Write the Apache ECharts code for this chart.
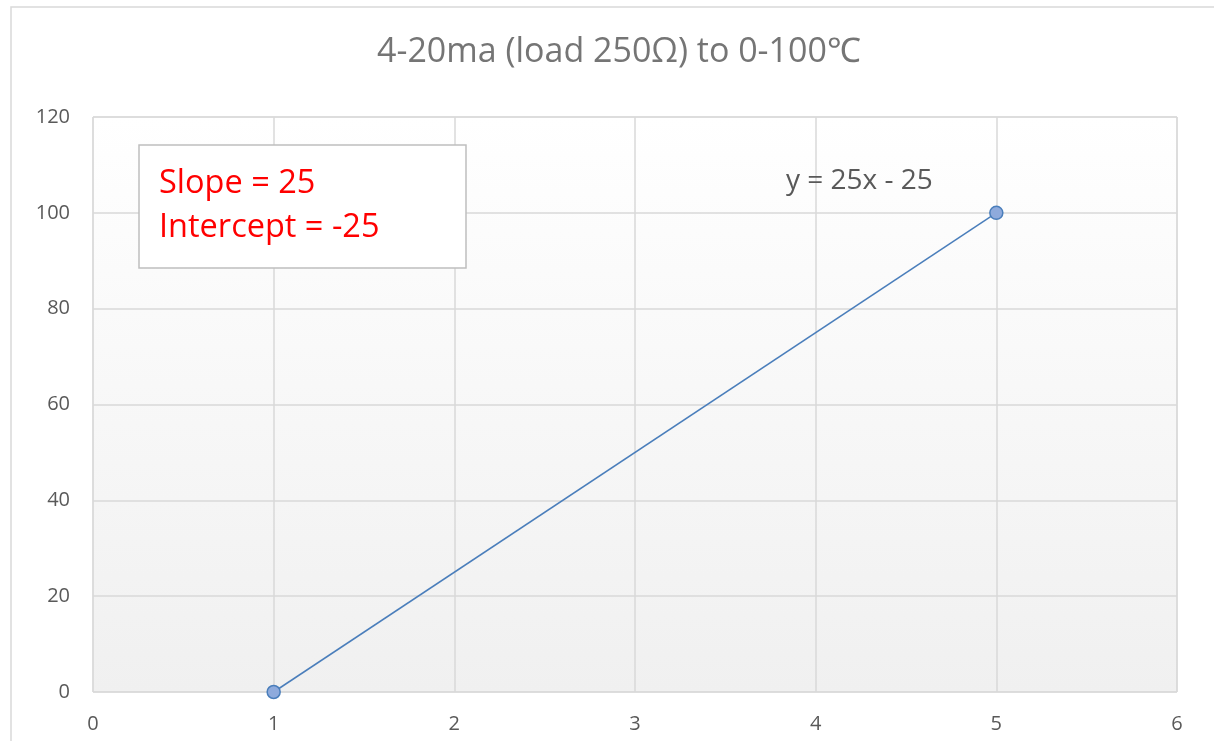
<!DOCTYPE html>
<html>
<head>
<meta charset="utf-8">
<script src="https://cdn.jsdelivr.net/npm/echarts@6/dist/echarts.min.js"></script>
<style>
  html, body { margin: 0; padding: 0; background: #fff; }
  #chart { width: 1214px; height: 741px; }
</style>
</head>
<body>
<div id="chart"></div>
<script>
// data
var xValues = [1, 5]
var yValues = [0, 100]
var chartTitle = '4-20ma (load 250Ω) to 0-100℃'
var noteLines = ['Slope = 25', 'Intercept = -25']
var trendLabel = 'y = 25x - 25'

var font = '"Open Sans", "Noto Sans", sans-serif'
var points = xValues.map(function (x, i) { return [x, yValues[i]] })

var chart = echarts.init(document.getElementById('chart'))
chart.setOption({
    animation: false,
    title: {
        text: chartTitle,
        left: 372,
        top: 30,
        textStyle: { fontFamily: font, fontSize: 34, fontWeight: 'normal', color: '#757575' }
    },
    grid: {
        left: 93,
        right: 37,
        top: 117,
        bottom: 49,
        show: true,
        borderColor: '#d9d9d9',
        borderWidth: 1,
        backgroundColor: {
            type: 'linear', x: 0, y: 0, x2: 0, y2: 1,
            colorStops: [{ offset: 0, color: '#ffffff' }, { offset: 1, color: '#f0f0f0' }]
        }
    },
    xAxis: {
        type: 'value',
        min: 0,
        max: 6,
        interval: 1,
        axisLine: { show: false },
        axisTick: { show: false },
        axisLabel: { fontFamily: font, fontSize: 20, color: '#595959', margin: 22 },
        splitLine: { lineStyle: { color: '#d9d9d9', width: 1.5 } }
    },
    yAxis: {
        type: 'value',
        min: 0,
        max: 120,
        interval: 20,
        axisLine: { show: false },
        axisTick: { show: false },
        axisLabel: { fontFamily: font, fontSize: 20, color: '#595959', margin: 23 },
        splitLine: { lineStyle: { color: '#d9d9d9', width: 1.5 } }
    },
    series: [{
        type: 'line',
        data: points,
        symbol: 'circle',
        symbolSize: 13,
        lineStyle: { color: '#4a7ebb', width: 1.5 },
        itemStyle: { color: '#8eaadc', borderColor: '#4a7ebb', borderWidth: 1.5 }
    }],
    graphic: [
        {
            type: 'rect',
            shape: { x: 11, y: 7, width: 1220, height: 760 },
            style: { fill: 'none', stroke: '#d9d9d9', lineWidth: 1.5 },
            silent: true
        },
        {
            type: 'rect',
            shape: { x: 139, y: 145, width: 327, height: 123 },
            style: { fill: '#ffffff', stroke: '#bfbfbf', lineWidth: 1.5 },
            z: 10
        },
        {
            type: 'text',
            x: 159,
            y: 162,
            style: {
                text: noteLines.join('\n'),
                fill: '#ff0000',
                font: '32.5px ' + font,
                lineHeight: 44
            },
            z: 11
        },
        {
            type: 'text',
            x: 786,
            y: 167,
            style: { text: trendLabel, fill: '#595959', font: '28px ' + font },
            z: 11
        }
    ]
})
</script>
</body>
</html>
